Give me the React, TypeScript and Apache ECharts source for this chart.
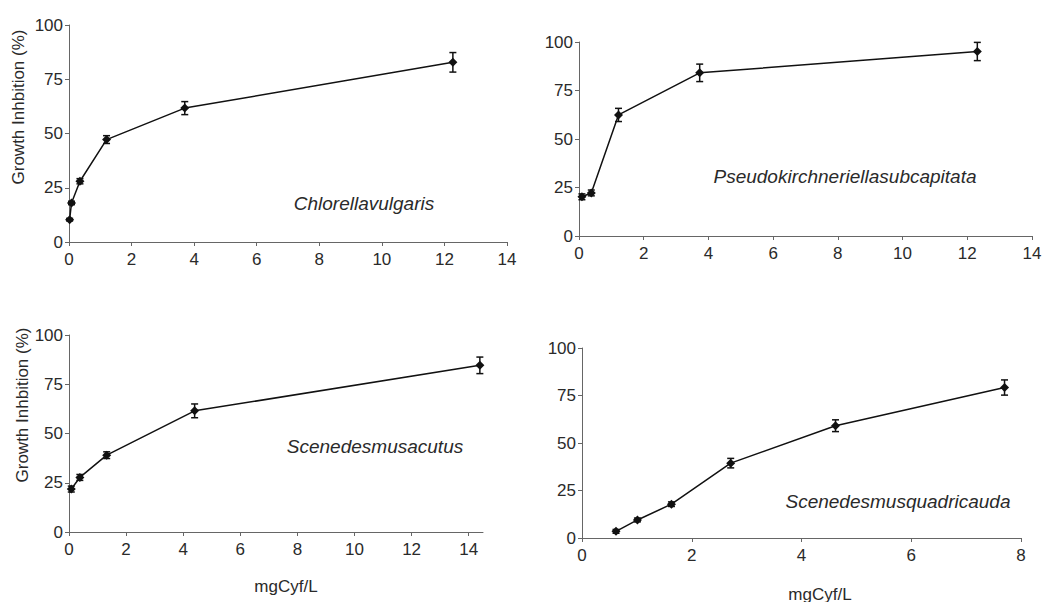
import React, { useEffect, useRef } from "react";
import * as echarts from "echarts";

// Panel 1: Chlorella vulgaris
const cvX = [0.02, 0.08, 0.35, 1.2, 3.7, 12.27];
const cvY = [10.3, 18, 28, 47.2, 61.7, 82.8];
const cvErr = [0.6, 0.8, 1.2, 1.8, 3, 4.5];

// Panel 2: Pseudokirchneriella subcapitata
const psX = [0.09, 0.38, 1.22, 3.73, 12.31];
const psY = [20.2, 22.2, 62.4, 84.1, 95.1];
const psErr = [1.5, 1.5, 3.4, 4.5, 4.7];

// Panel 3: Scenedesmus acutus
const saX = [0.08, 0.38, 1.32, 4.4, 14.39];
const saY = [21.8, 27.7, 39, 61.5, 84.6];
const saErr = [1.5, 1.5, 1.7, 3.5, 4.2];

// Panel 4: Scenedesmus quadricauda
const sqX = [0.62, 1.01, 1.63, 2.71, 4.62, 7.7];
const sqY = [3.5, 9.5, 17.8, 39.4, 59.1, 79.2];
const sqErr = [1, 1, 1.2, 2.5, 3.1, 4];

const yTicks = [0, 25, 50, 75, 100];
const xTicksWide = [0, 2, 4, 6, 8, 10, 12, 14];
const xTicksNarrow = [0, 2, 4, 6, 8];

const speciesNames = [
  "Chlorellavulgaris",
  "Pseudokirchneriellasubcapitata",
  "Scenedesmusacutus",
  "Scenedesmusquadricauda",
];
const yTitle = "Growth Inhbition (%)";
const xTitle = "mgCyf/L";

const FONT = "Liberation Sans, Arial, sans-serif";
const TEXT = "#2a2a2a";
const AXIS = "#666666";

export default function App() {
  const ref = useRef<HTMLDivElement>(null);

  useEffect(() => {
    if (!ref.current) return;
    const chart = echarts.init(ref.current, undefined, { renderer: "svg" });

    const grids = [
      { left: 69, top: 25, width: 438, height: 217 },
      { left: 579, top: 42, width: 453, height: 194 },
      { left: 69, top: 335, width: 414, height: 197 },
      { left: 582, top: 348, width: 439, height: 190 },
    ];
    const xMax = [14, 14, 14.5, 8];
    const xTickSets = [xTicksWide, xTicksWide, xTicksWide, xTicksNarrow];
    const panels = [
      [cvX, cvY, cvErr],
      [psX, psY, psErr],
      [saX, saY, saErr],
      [sqX, sqY, sqErr],
    ];

    const xAxes = grids.map((_, i) => ({
      type: "value",
      gridIndex: i,
      min: 0,
      max: xMax[i],
      interval: 2,
      splitLine: { show: false },
      axisLine: { show: true, lineStyle: { color: AXIS, width: 1 } },
      axisTick: {
        show: true,
        length: 4,
        inside: false,
        lineStyle: { color: AXIS },
        customValues: xTickSets[i],
      },
      axisLabel: {
        color: TEXT,
        fontSize: 17,
        fontFamily: FONT,
        margin: 9,
        customValues: xTickSets[i],
        showMaxLabel: true,
        showMinLabel: true,
      },
    }));

    const yAxes = grids.map((_, i) => ({
      type: "value",
      gridIndex: i,
      min: 0,
      max: 100,
      interval: 25,
      splitLine: { show: false },
      axisLine: { show: true, lineStyle: { color: AXIS, width: 1 } },
      axisTick: {
        show: true,
        length: 4,
        inside: false,
        lineStyle: { color: AXIS },
        customValues: yTicks,
      },
      axisLabel: {
        color: TEXT,
        fontSize: 17,
        fontFamily: FONT,
        margin: 6,
        customValues: yTicks,
      },
    }));

    const series: any[] = [];
    panels.forEach(([xs, ys, es], i) => {
      series.push({
        type: "line",
        xAxisIndex: i,
        yAxisIndex: i,
        data: xs.map((x, k) => [x, ys[k]]),
        symbol: "diamond",
        symbolSize: 9,
        lineStyle: { color: "#111", width: 1.5 },
        itemStyle: { color: "#111" },
        z: 3,
      });
      series.push({
        type: "custom",
        xAxisIndex: i,
        yAxisIndex: i,
        data: xs.map((x, k) => [x, ys[k] - es[k], ys[k] + es[k]]),
        renderItem: (params: any, api: any) => {
          const x = api.value(0);
          const lo = api.coord([x, api.value(1)]);
          const hi = api.coord([x, api.value(2)]);
          const w = 3.5;
          const style = { stroke: "#111", lineWidth: 1.5 };
          return {
            type: "group",
            children: [
              { type: "line", shape: { x1: lo[0], y1: lo[1], x2: hi[0], y2: hi[1] }, style },
              { type: "line", shape: { x1: lo[0] - w, y1: lo[1], x2: lo[0] + w, y2: lo[1] }, style },
              { type: "line", shape: { x1: hi[0] - w, y1: hi[1], x2: hi[0] + w, y2: hi[1] }, style },
            ],
          };
        },
        z: 2,
      });
    });

    const speciesPos = [
      [364, 203],
      [845, 176],
      [375, 446],
      [898, 501],
    ];

    const graphic: any[] = speciesNames.map((name, i) => ({
      type: "text",
      x: speciesPos[i][0],
      y: speciesPos[i][1],
      style: {
        text: name,
        fill: TEXT,
        font: `italic 19px ${FONT}`,
        textAlign: "center",
        textVerticalAlign: "middle",
      },
    }));
    graphic.push(
      {
        type: "text",
        x: 18,
        y: 107,
        rotation: Math.PI / 2,
        style: {
          text: yTitle,
          fill: TEXT,
          font: `17px ${FONT}`,
          textAlign: "center",
          textVerticalAlign: "middle",
        },
      },
      {
        type: "text",
        x: 22,
        y: 405,
        rotation: Math.PI / 2,
        style: {
          text: yTitle,
          fill: TEXT,
          font: `17px ${FONT}`,
          textAlign: "center",
          textVerticalAlign: "middle",
        },
      },
      {
        type: "text",
        x: 286,
        y: 586,
        style: {
          text: xTitle,
          fill: TEXT,
          font: `17px ${FONT}`,
          textAlign: "center",
          textVerticalAlign: "middle",
        },
      },
      {
        type: "text",
        x: 820,
        y: 594,
        style: {
          text: xTitle,
          fill: TEXT,
          font: `17px ${FONT}`,
          textAlign: "center",
          textVerticalAlign: "middle",
        },
      }
    );

    chart.setOption({
      animation: false,
      backgroundColor: "#ffffff",
      grid: grids,
      xAxis: xAxes,
      yAxis: yAxes,
      series,
      graphic,
    });

    return () => chart.dispose();
  }, []);

  return (
    <div
      ref={ref}
      style={{ position: "fixed", left: 0, top: 0, width: 1045, height: 602 }}
    />
  );
}
